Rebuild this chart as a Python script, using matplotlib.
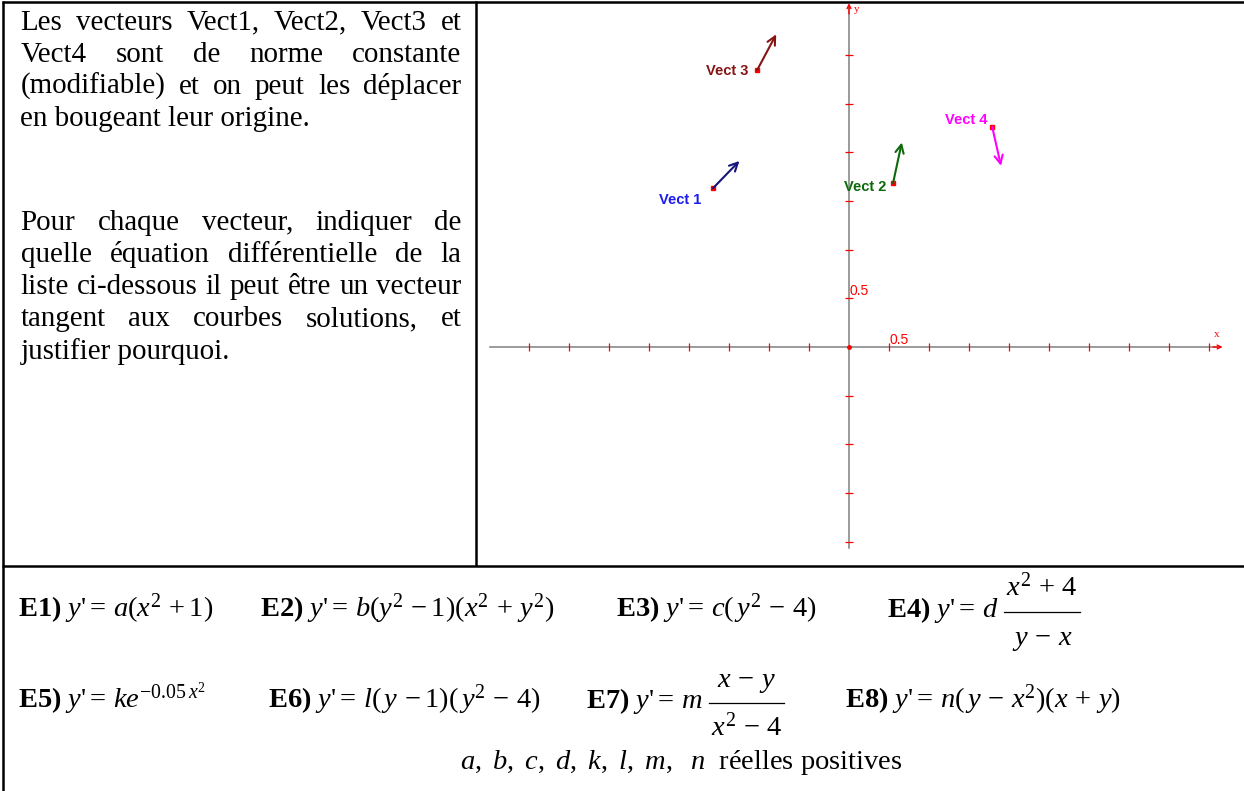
import matplotlib
matplotlib.use("Agg")
import matplotlib.pyplot as plt

plt.rcParams["mathtext.fontset"] = "custom"
plt.rcParams["mathtext.rm"] = "Liberation Serif"
plt.rcParams["mathtext.it"] = "Liberation Serif:italic"
plt.rcParams["mathtext.bf"] = "Liberation Serif:bold"

W, H = 1244, 791

# vectors (graph units)
VECT_NAMES = ["Vect 1", "Vect 2", "Vect 3", "Vect 4"]
VECT_X0 = [-1.70, 0.55, -1.15, 1.79]
VECT_Y0 = [1.63, 1.68, 2.84, 2.26]
VECT_X1 = [-1.37, 0.66, -0.91, 1.90]
VECT_Y1 = [1.91, 2.10, 3.21, 1.86]

X_TICKS = [-4.0, -3.5, -3.0, -2.5, -2.0, -1.5, -1.0, -0.5, 0.5,
           1.0, 1.5, 2.0, 2.5, 3.0, 3.5, 4.0, 4.5]
Y_TICKS = [-2.0, -1.5, -1.0, -0.5, 0.5, 1.0, 1.5, 2.0, 2.5, 3.0]
TICK_LABEL = "0.5"

PARAGRAPHS = [
    ["Les vecteurs Vect1, Vect2, Vect3 et",
     "Vect4 sont de norme constante",
     "(modifiable) et on peut les déplacer",
     "en bougeant leur origine."],
    ["Pour chaque vecteur, indiquer de",
     "quelle équation différentielle de la",
     "liste ci-dessous il peut être un vecteur",
     "tangent aux courbes solutions, et",
     "justifier pourquoi."],
]

# "y" in math, the apostrophe as plain text so it is not turned into a prime
ROW1 = [r"$\mathbf{E1)}\ y$'$=\,a(x^2\,+1)$",
        r"$\mathbf{E2)}\ y$'$=\,b(y^2\,-1)(x^2\,+\,y^2)$",
        r"$\mathbf{E3)}\ y$'$=\,c(\,y^2\,-\,4)$"]
E4_LEFT, E4_NUM, E4_DEN = r"$\mathbf{E4)}\ y$'$=\,d$", r"$x^2\,+\,4$", r"$y\,-\,x$"
ROW2 = [r"$\mathbf{E5)}\ y$'$=\,ke^{-0.05\,x^2}$",
        r"$\mathbf{E6)}\ y$'$=\,l(\,y\,-1)(\,y^2\,-\,4)$"]
E7_LEFT, E7_NUM, E7_DEN = r"$\mathbf{E7)}\ y$'$=\,m$", r"$x\,-\,y$", r"$x^2\,-\,4$"
E8 = r"$\mathbf{E8)}\ y$'$=\,n(\,y\,-\,x^2)(x\,+\,y)$"
NOTE = r"$a,\ b,\ c,\ d,\ k,\ l,\ m,\ \ n$  réelles positives"

# layout (pixels)
ORIGIN = (849, 347)
PX_X, PX_Y = 80.0, 97.4
TEXT_SIZE = 20.9
EQ_SIZE = 20.5
VEC_COLORS = ["#14147a", "#0c6a0c", "#861414", "#ff00ff"]
LAB_COLORS = ["#1c1cf0", "#0c6a0c", "#861414", "#ff00ff"]
LAB_OFFSETS = [(-33, -12), (-28, -4), (-30, -1), (-26, 7)]

fig = plt.figure(figsize=(W / 100, H / 100), dpi=100)
renderer = fig.canvas.get_renderer()

# graph in the right cell
gx0, gx1, gy0, gy1 = 478, 1240, 3, 565
ax = fig.add_axes([gx0 / W, 1 - gy1 / H, (gx1 - gx0) / W, (gy1 - gy0) / H])
ax.set_xlim((gx0 - ORIGIN[0]) / PX_X, (gx1 - ORIGIN[0]) / PX_X)
ax.set_ylim((ORIGIN[1] - gy1) / PX_Y, (ORIGIN[1] - gy0) / PX_Y)
ax.axis("off")

ax.plot([-4.49, 4.64], [0, 0], color="#808080", lw=1.1, zorder=1)
ax.plot([0, 0], [-2.06, 3.50], color="#808080", lw=1.1, zorder=1)
arrow_axis = dict(arrowstyle="->", color="red", lw=1.0, mutation_scale=7,
                  shrinkA=0, shrinkB=0)
ax.annotate("", xy=(4.67, 0), xytext=(4.55, 0), arrowprops=arrow_axis)
ax.annotate("", xy=(0, 3.53), xytext=(0, 3.42), arrowprops=arrow_axis)
ax.plot(X_TICKS, [0] * len(X_TICKS), "|", color="red", ms=6, mew=0.9)
ax.plot([0] * len(Y_TICKS), Y_TICKS, "_", color="red", ms=6, mew=0.9)
ax.plot([0], [0], "o", color="red", ms=2.5)
ax.text(0.5, 0.005, TICK_LABEL, color="red", fontsize=10,
        family="Liberation Sans", ha="left", va="bottom")
ax.text(0.005, 0.5, TICK_LABEL, color="red", fontsize=10,
        family="Liberation Sans", ha="left", va="bottom")
ax.text(4.6, 0.08, "x", color="red", fontsize=8, family="Liberation Serif",
        ha="center", va="bottom")
ax.text(0.06, 3.47, "y", color="red", fontsize=8, family="Liberation Serif",
        ha="left", va="center")

for i, name in enumerate(VECT_NAMES):
    ax.annotate("", xy=(VECT_X1[i], VECT_Y1[i]), xytext=(VECT_X0[i], VECT_Y0[i]),
                arrowprops=dict(arrowstyle="->", color=VEC_COLORS[i], lw=1.5,
                                mutation_scale=15, shrinkA=0, shrinkB=0))
    ax.plot([VECT_X0[i]], [VECT_Y0[i]], "s", color="red", ms=2.2)
    ax.annotate(name, xy=(VECT_X0[i], VECT_Y0[i]), xytext=LAB_OFFSETS[i],
                textcoords="offset pixels", ha="center", va="center",
                fontsize=10.5, fontweight="bold", color=LAB_COLORS[i],
                family="Liberation Sans")

# page overlay in pixel coordinates
pax = fig.add_axes([0, 0, 1, 1])
pax.set_xlim(0, W)
pax.set_ylim(H, 0)
pax.axis("off")
pax.patch.set_alpha(0)

line_kw = dict(color="black", lw=1.8, solid_capstyle="butt")
pax.plot([2, W], [1.8, 1.8], **line_kw)
pax.plot([2.8, 2.8], [1, H], **line_kw)
pax.plot([476, 476], [1, 566], **line_kw)
pax.plot([2, W], [566, 566], **line_kw)


def text_line(words, x0, x1, y, justify):
    kw = dict(fontsize=TEXT_SIZE, family="Liberation Serif", va="baseline")
    if not justify:
        pax.text(x0, y, " ".join(words), **kw)
        return
    items = [pax.text(0, y, w, **kw) for w in words]
    widths = [t.get_window_extent(renderer).width for t in items]
    gap = (x1 - x0 - sum(widths)) / (len(words) - 1)
    x = x0
    for t, w in zip(items, widths):
        t.set_x(x)
        x += w + gap


baselines = [[29.5, 61.8, 94.1, 126.4], [229.5, 261.8, 294.1, 326.4, 358.7]]
for para, ys in zip(PARAGRAPHS, baselines):
    for j, (line, y) in enumerate(zip(para, ys)):
        text_line(line.split(), 20.5, 461.5, y, j < len(para) - 1)


def eq(x, y, s, ha="left"):
    return pax.text(x, y, s, fontsize=EQ_SIZE, ha=ha, va="baseline",
                    family="Liberation Serif")


def fraction(left, num, den, y, up, down):
    t = eq(left[0], y, left[1])
    xs = t.get_window_extent(renderer).x1 + 6
    tn = eq(0, y - up, num, ha="center")
    td = eq(0, y + down, den, ha="center")
    wd = max(tn.get_window_extent(renderer).width,
             td.get_window_extent(renderer).width) + 4
    tn.set_x(xs + wd / 2)
    td.set_x(xs + wd / 2)
    pax.plot([xs, xs + wd], [y - 5.5, y - 5.5], color="black", lw=0.9)


for x, s in zip([18, 260, 616], ROW1):
    eq(x, 617, s)
fraction((887, E4_LEFT), E4_NUM, E4_DEN, 617, 21, 28)

for x, s in zip([18, 268], ROW2):
    eq(x, 708, s)
fraction((586, E7_LEFT), E7_NUM, E7_DEN, 708, 21, 28)
eq(845, 708, E8)

pax.text(460, 769, NOTE, fontsize=EQ_SIZE, family="Liberation Serif",
         ha="left", va="baseline")

fig.savefig("out.png", dpi=100)
